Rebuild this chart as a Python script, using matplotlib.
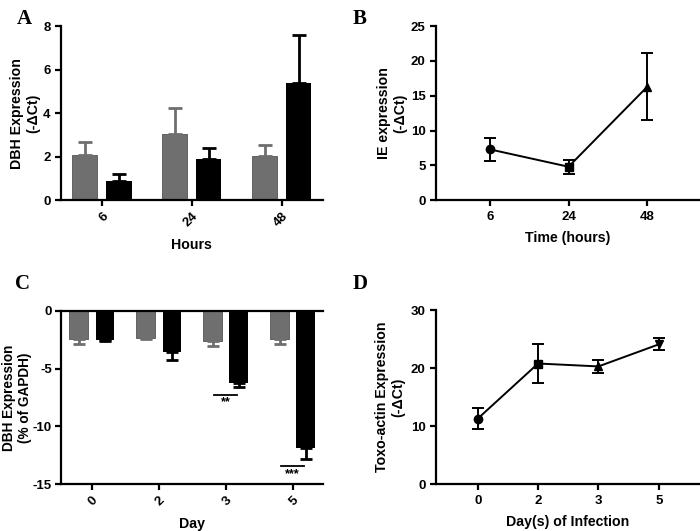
import numpy as np
import matplotlib
matplotlib.use('Agg')
import matplotlib.pyplot as plt

plt.rcParams['font.family'] = 'Liberation Sans'
plt.rcParams['font.weight'] = 'bold'
plt.rcParams['axes.unicode_minus'] = False

# ---- panel A
a_hours = ['6', '24', '48']
a_gray = [2.07, 3.03, 2.05]
a_gray_err = [0.60, 1.20, 0.47]
a_black = [0.87, 1.89, 5.37]
a_black_err = [0.33, 0.49, 2.20]

# ---- panel B
b_time = ['6', '24', '48']
b_mean = [7.3, 4.8, 16.3]
b_err = [1.65, 0.97, 4.8]
b_markers = ['o', 's', '^']

# ---- panel C
c_days = ['0', '2', '3', '5']
c_gray = [-2.45, -2.35, -2.6, -2.45]
c_gray_err = [0.42, 0.10, 0.45, 0.40]
c_black = [-2.5, -3.6, -6.28, -11.84]
c_black_err = [0.10, 0.66, 0.34, 1.0]
c_sig = ['', '', '**', '***']
c_sig_y = [0, 0, -7.28, -13.43]

# ---- panel D
d_days = ['0', '2', '3', '5']
d_mean = [11.3, 20.8, 20.3, 24.1]
d_err = [1.8, 3.4, 1.05, 1.05]
d_markers = ['o', 's', '^', 'v']

GRAY = '#6f6f6f'
LW = 1.6
LAB = 10.2


def style(ax):
    for s in ['top', 'right']:
        ax.spines[s].set_visible(False)
    for s in ['left', 'bottom']:
        ax.spines[s].set_linewidth(LW)
    ax.tick_params(width=LW, length=4, labelsize=9.5)


fig = plt.figure(figsize=(7, 5.31), dpi=100)

# A
ax = fig.add_axes([0.087, 0.623, 0.374, 0.328])
x = np.arange(len(a_hours))
w = 0.28
ax.bar(x - 0.19, a_gray, w, color=GRAY, edgecolor='#555555', linewidth=0.6)
ax.errorbar(x - 0.19, a_gray, yerr=[np.zeros(3), a_gray_err], fmt='none',
            ecolor=GRAY, elinewidth=2, capsize=5, capthick=2)
ax.bar(x + 0.19, a_black, w, color='black')
ax.errorbar(x + 0.19, a_black, yerr=[np.zeros(3), a_black_err], fmt='none',
            ecolor='black', elinewidth=2, capsize=5, capthick=2)
ax.set_xlim(-0.456, 2.456)
ax.set_ylim(0, 8)
ax.set_yticks([0, 2, 4, 6, 8])
ax.set_xticks(x)
ax.set_xticklabels(a_hours, rotation=45, ha='right', rotation_mode='anchor', fontsize=10)
style(ax)
ax.set_xlabel('Hours', fontsize=LAB, fontweight='bold', labelpad=6)
ax.set_ylabel('DBH Expression\n(-\u0394Ct)', fontsize=LAB, fontweight='bold')
ax.yaxis.set_label_coords(-0.08, 0.5)
fig.text(0.024, 0.965, 'A', fontsize=15, fontweight='bold', family='Liberation Serif', va='center')

# B
ax = fig.add_axes([0.623, 0.623, 0.375, 0.328])
x = np.arange(len(b_time))
ax.plot(x, b_mean, color='black', lw=1.4)
for i in range(len(x)):
    ax.errorbar(x[i], b_mean[i], yerr=b_err[i], fmt=b_markers[i], color='black',
                ms=6, elinewidth=1.4, capsize=4, capthick=1.4)
ax.set_xlim(-0.68, 2.65)
ax.set_ylim(0, 25)
ax.set_yticks([0, 5, 10, 15, 20, 25])
ax.set_xticks(x)
ax.set_xticklabels(b_time)
style(ax)
ax.set_xlabel('Time (hours)', fontsize=LAB, fontweight='bold', labelpad=6)
ax.set_ylabel('IE expression\n(-\u0394Ct)', fontsize=LAB, fontweight='bold')
ax.yaxis.set_label_coords(-0.11, 0.5)
fig.text(0.504, 0.965, 'B', fontsize=15, fontweight='bold', family='Liberation Serif', va='center')

# C
ax = fig.add_axes([0.087, 0.088, 0.374, 0.327])
x = np.arange(len(c_days))
w = 0.275
ax.bar(x - 0.195, c_gray, w, color=GRAY, edgecolor='#555555', linewidth=0.6)
ax.errorbar(x - 0.195, c_gray, yerr=[c_gray_err, np.zeros(4)], fmt='none',
            ecolor=GRAY, elinewidth=2, capsize=4, capthick=2)
ax.bar(x + 0.195, c_black, w, color='black')
ax.errorbar(x + 0.195, c_black, yerr=[c_black_err, np.zeros(4)], fmt='none',
            ecolor='black', elinewidth=2, capsize=4, capthick=2)
for i in range(len(x)):
    if c_sig[i]:
        ax.plot([x[i] - 0.17, x[i] + 0.17], [c_sig_y[i], c_sig_y[i]], color='black', lw=1.3)
        ax.text(x[i], c_sig_y[i] - 0.15, c_sig[i], ha='center', va='top', fontsize=9)
ax.set_xlim(-0.46, 3.45)
ax.set_ylim(-15, 0)
ax.set_yticks([0, -5, -10, -15])
ax.set_xticks(x)
ax.set_xticklabels(c_days, rotation=45, ha='right', rotation_mode='anchor', fontsize=10)
style(ax)
ax.tick_params(axis='y', pad=2.5)
ax.spines['top'].set_visible(True)
ax.spines['top'].set_linewidth(LW)
ax.set_xlabel('Day', fontsize=LAB, fontweight='bold', labelpad=6)
ax.set_ylabel('DBH Expression\n(% of GAPDH)', fontsize=9.8, fontweight='bold',
              linespacing=1.1)
ax.yaxis.set_label_coords(-0.112, 0.5)
fig.text(0.022, 0.465, 'C', fontsize=15, fontweight='bold', family='Liberation Serif', va='center')

# D
ax = fig.add_axes([0.623, 0.088, 0.375, 0.328])
x = np.arange(len(d_days))
ax.plot(x, d_mean, color='black', lw=1.4)
for i in range(len(x)):
    ax.errorbar(x[i], d_mean[i], yerr=d_err[i], fmt=d_markers[i], color='black',
                ms=6, elinewidth=1.4, capsize=4, capthick=1.4)
ax.set_xlim(-0.69, 3.66)
ax.set_ylim(0, 30)
ax.set_yticks([0, 10, 20, 30])
ax.set_xticks(x)
ax.set_xticklabels(d_days)
style(ax)
ax.set_xlabel('Day(s) of Infection', fontsize=LAB, fontweight='bold', labelpad=6)
ax.set_ylabel('Toxo-actin Expression\n(-\u0394Ct)', fontsize=LAB, fontweight='bold')
ax.yaxis.set_label_coords(-0.118, 0.5)
fig.text(0.504, 0.465, 'D', fontsize=15, fontweight='bold', family='Liberation Serif', va='center')

fig.savefig('out.png', dpi=100)
